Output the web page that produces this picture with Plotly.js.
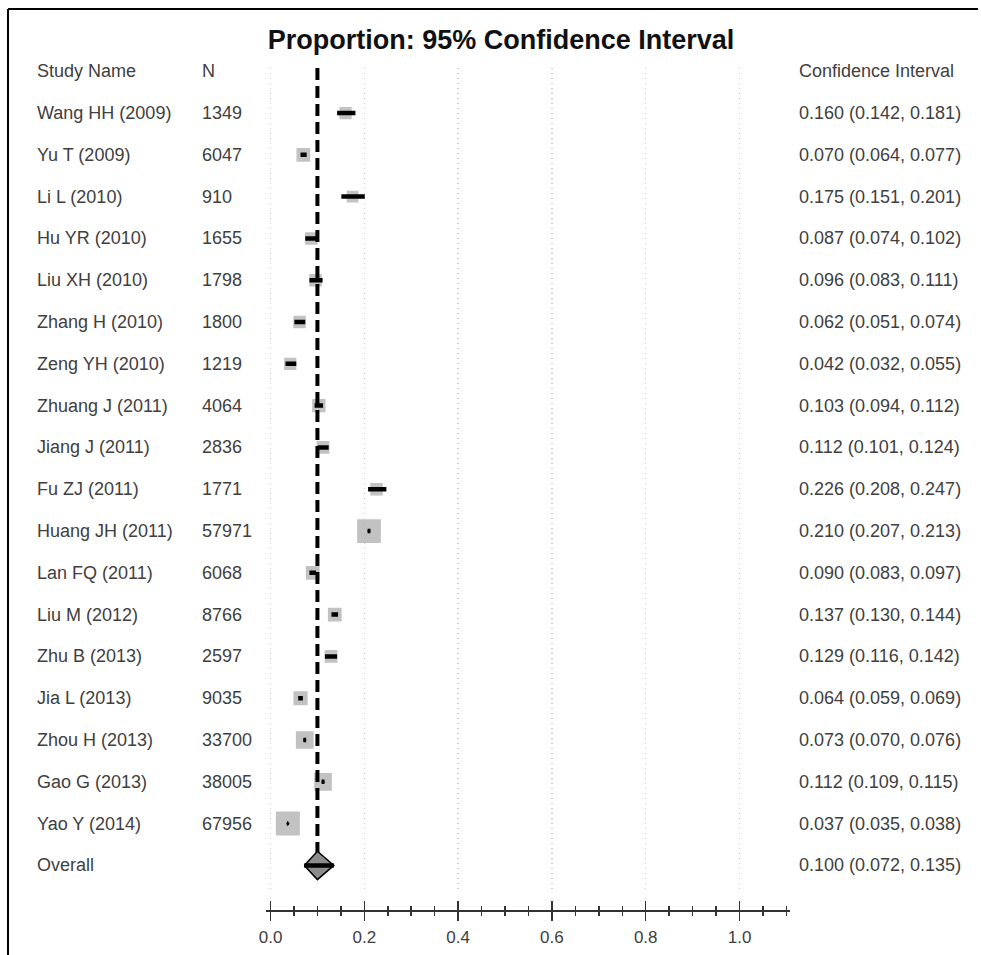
<!DOCTYPE html>
<html>
<head>
<meta charset="utf-8">
<script src="https://cdn.plot.ly/plotly-3.0.1.min.js"></script>
<style>html,body{margin:0;padding:0;background:#fff;overflow:hidden;}#chart{width:981px;height:955px;}</style>
</head>
<body>
<div id="chart"></div>
<script>
// ---- data ----
const studies = ['Wang HH (2009)','Yu T (2009)','Li L (2010)','Hu YR (2010)','Liu XH (2010)','Zhang H (2010)','Zeng YH (2010)','Zhuang J (2011)','Jiang J (2011)','Fu ZJ (2011)','Huang JH (2011)','Lan FQ (2011)','Liu M (2012)','Zhu B (2013)','Jia L (2013)','Zhou H (2013)','Gao G (2013)','Yao Y (2014)'];
const sampleN = [1349,6047,910,1655,1798,1800,1219,4064,2836,1771,57971,6068,8766,2597,9035,33700,38005,67956];
const estimate = [0.160,0.070,0.175,0.087,0.096,0.062,0.042,0.103,0.112,0.226,0.210,0.090,0.137,0.129,0.064,0.073,0.112,0.037];
const lower = [0.142,0.064,0.151,0.074,0.083,0.051,0.032,0.094,0.101,0.208,0.207,0.083,0.130,0.116,0.059,0.070,0.109,0.035];
const upper = [0.181,0.077,0.201,0.102,0.111,0.074,0.055,0.112,0.124,0.247,0.213,0.097,0.144,0.142,0.069,0.076,0.115,0.038];
// relative study weights
const weight = [2.4,3.0,2.2,2.5,2.5,2.5,2.4,2.8,2.6,2.5,9.0,3.0,3.0,2.6,3.2,5.0,5.0,9.2];
const overallLabel = 'Overall';
const overallEst = 0.100, overallLower = 0.072, overallUpper = 0.135;
const tickVals = [0,0.2,0.4,0.6,0.8,1.0];
const tickText = ['0.0','0.2','0.4','0.6','0.8','1.0'];
const headers = ['Study Name','N','Confidence Interval'];
const chartTitle = 'Proportion: 95% Confidence Interval';

// ---- derived ----
const rows = studies.map((s,i)=>i+1);
const overallRow = studies.length + 1;
const fmt = v => v.toFixed(3);
const ciText = estimate.map((e,i)=>`${fmt(e)} (${fmt(lower[i])}, ${fmt(upper[i])})`);
const overallText = `${fmt(overallEst)} (${fmt(overallLower)}, ${fmt(overallUpper)})`;
const wMax = Math.max(...weight);
const boxSize = weight.map(w => 24*Math.sqrt(w/wMax));

const ciX = [], ciY = [];
rows.forEach((r,i)=>{ ciX.push(lower[i], upper[i], null); ciY.push(r, r, null); });

const yTop = -0.077, yBottom = 19.66;
const dh = 0.34;

const textColor = '#404040';
const font = 'Liberation Sans, Arial, sans-serif';

const traces = [
  { type:'scatter', mode:'markers', x: estimate, y: rows, xaxis:'x', yaxis:'y',
    marker:{symbol:'square', size: boxSize, color:'#a8a8a8', line:{width:0}}, hoverinfo:'skip', showlegend:false },
  { type:'scatter', mode:'lines', x:[overallEst, overallEst], y:[yTop, overallRow],
    line:{color:'#000', width:4, dash:'12px,6px'}, hoverinfo:'skip', showlegend:false },
  { type:'scatter', mode:'lines', x: ciX, y: ciY, connectgaps:false,
    line:{color:'#000', width:4.5}, hoverinfo:'skip', showlegend:false },
  { type:'scatter', mode:'markers', x: estimate, y: rows,
    marker:{size:3, color:'#000'}, hoverinfo:'skip', showlegend:false },
  { type:'scatter', mode:'lines', fill:'toself', fillcolor:'#8c8c8c',
    x:[overallLower, overallEst, overallUpper, overallEst, overallLower],
    y:[overallRow, overallRow-dh, overallRow, overallRow+dh, overallRow],
    line:{color:'#000', width:1.5}, hoverinfo:'skip', showlegend:false },
  { type:'scatter', mode:'lines', x:[overallLower, overallUpper], y:[overallRow, overallRow],
    line:{color:'#000', width:4.5}, hoverinfo:'skip', showlegend:false },
  { type:'scatter', mode:'markers', x:[overallEst], y:[overallRow], xaxis:'x2', yaxis:'y',
    marker:{opacity:0}, hoverinfo:'skip', showlegend:false }
];

const annotations = [];
const addText = (txt, xp, yv, opts={}) => annotations.push(Object.assign({
  text: txt, xref:'paper', yref:'y', x: xp, y: yv, xanchor:'left', yanchor:'middle',
  showarrow:false, font:{family:font, size:18, color:textColor}}, opts));
addText(headers[0], 35/981, 0);
addText(headers[1], 200/981, 0);
addText(headers[2], 797/981, 0);
rows.forEach((r,i)=>{
  addText(studies[i], 35/981, r);
  addText(String(sampleN[i]), 200/981, r);
  addText(ciText[i], 797/981, r);
});
addText(overallLabel, 35/981, overallRow);
addText(overallText, 797/981, overallRow);

const xDomain = [265.5/981, 789.6/981];
const xRange = [-0.0107, 1.1068];
const axisPos = 1 - 910/955;

const layout = {
  width:981, height:955,
  margin:{l:0, r:0, t:0, b:0},
  paper_bgcolor:'#fff', plot_bgcolor:'rgba(0,0,0,0)',
  showlegend:false,
  title:{text: chartTitle, x: 501/981, xref:'paper', xanchor:'center', y: 1-40/955, yref:'paper', yanchor:'middle',
    font:{family:font, size:27, color:'#111', weight:'bold'}},
  xaxis:{domain:xDomain, range:xRange, anchor:'free', position:axisPos,
    tickmode:'array', tickvals:tickVals, ticktext:tickText,
    ticks:'outside', ticklen:9, tickwidth:1.5, tickcolor:'#333',
    showline:true, linecolor:'#333', linewidth:1.5,
    showgrid:true, gridcolor:'#cccccc', griddash:'1px,4px', gridwidth:1.5,
    zeroline:false, tickfont:{family:font, size:17, color:textColor}, ticklabelstandoff:2,
    minor:{tickmode:'linear', tick0:0, dtick:0.05, ticks:'outside', ticklen:4, tickwidth:1.5, tickcolor:'#333', showgrid:false},
    fixedrange:true},
  xaxis2:{domain:xDomain, range:xRange, anchor:'free', position:axisPos, overlaying:'x',
    tickmode:'array', tickvals:tickVals, showticklabels:false,
    ticks:'inside', ticklen:9, tickwidth:1.5, tickcolor:'#333',
    showline:false, showgrid:false, zeroline:false,
    minor:{tickmode:'linear', tick0:0, dtick:0.05, ticks:'inside', ticklen:4, tickwidth:1.5, tickcolor:'#333', showgrid:false},
    fixedrange:true},
  yaxis:{domain:[1-893/955, 1-68/955], range:[yBottom, yTop], showgrid:false, zeroline:false,
    showline:false, showticklabels:false, ticks:'', fixedrange:true},
  annotations: annotations,
  shapes:[
    {type:'line', xref:'paper', yref:'paper', x0:8/981, x1:0.997, y0:1-9/955, y1:1-9/955, line:{color:'#000', width:2}},
    {type:'line', xref:'paper', yref:'paper', x0:8/981, x1:8/981, y0:1-9/955, y1:0, line:{color:'#000', width:2}}
  ]
};

Plotly.newPlot('chart', traces, layout, {staticPlot:true, displayModeBar:false});
</script>
</body>
</html>
